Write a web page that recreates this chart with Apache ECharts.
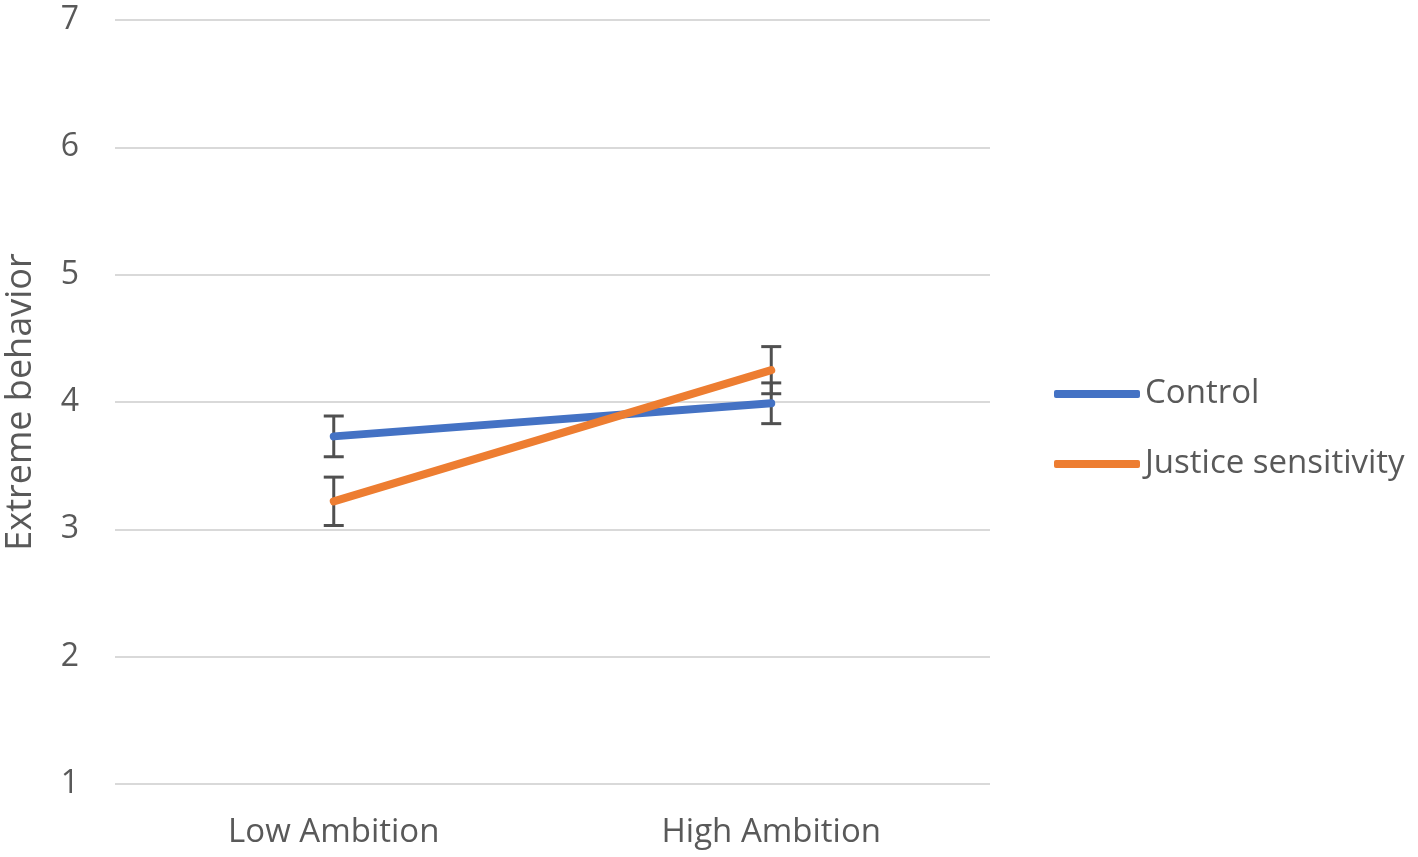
<!DOCTYPE html>
<html><head><meta charset="utf-8">
<script src="https://cdn.jsdelivr.net/npm/echarts@6/dist/echarts.min.js"></script>
<style>html,body{margin:0;padding:0;background:#fff}#c{width:1418px;height:857px}</style>
</head><body><div id="c"></div>
<script>
const categories = ['Low Ambition', 'High Ambition'];
const controlValues = [3.73, 3.99];
const controlErrors = [0.16, 0.16];
const justiceValues = [3.22, 4.25];
const justiceErrors = [0.19, 0.185];
const yTicks = [1, 2, 3, 4, 5, 6, 7];

const FONT = 'Open Sans';
const TXT = '#595959';

function errData(vals, errs) {
  return vals.map((v, i) => [i, v - errs[i], v + errs[i]]);
}
function renderErr(params, api) {
  const x = api.value(0);
  const lo = api.coord([x, api.value(1)]);
  const hi = api.coord([x, api.value(2)]);
  const hw = 10;
  const st = { stroke: '#505050', lineWidth: 3 };
  return {
    type: 'group',
    children: [
      { type: 'line', shape: { x1: lo[0], y1: lo[1], x2: hi[0], y2: hi[1] }, style: st },
      { type: 'line', shape: { x1: lo[0] - hw, y1: lo[1], x2: lo[0] + hw, y2: lo[1] }, style: st },
      { type: 'line', shape: { x1: hi[0] - hw, y1: hi[1], x2: hi[0] + hw, y2: hi[1] }, style: st }
    ]
  };
}

const chart = echarts.init(document.getElementById('c'));
chart.setOption({
  animation: false,
  textStyle: { fontFamily: FONT },
  grid: { left: 115, right: 428, top: 20, bottom: 73, containLabel: false, outerBoundsMode: 'none' },
  legend: {
    orient: 'vertical', left: 1054, top: 374, padding: 0,
    icon: 'roundRect', itemWidth: 86, itemHeight: 8, itemGap: 30,
    textStyle: { color: TXT, fontSize: 33, fontFamily: FONT, lineHeight: 40, padding: [0, 0, 0, 0] },
    data: ['Control', 'Justice sensitivity']
  },
  xAxis: {
    type: 'category', data: categories, boundaryGap: true,
    axisLine: { show: false }, axisTick: { show: false },
    axisLabel: { color: TXT, fontSize: 33, margin: 32 }
  },
  yAxis: {
    type: 'value', min: 1, max: 7, interval: 1,
    name: 'Extreme behavior', nameLocation: 'middle', nameGap: 76,
    nameTextStyle: { color: TXT, fontSize: 36 },
    axisLine: { show: false }, axisTick: { show: false },
    axisLabel: { color: TXT, fontSize: 32, margin: 36,
      formatter: v => yTicks.includes(v) ? String(v) : '' },
    splitLine: { lineStyle: { color: '#d9d9d9', width: 2 } }
  },
  series: [
    { name: 'ctrlErr', type: 'custom', renderItem: renderErr, data: errData(controlValues, controlErrors), z: 1, silent: true },
    { name: 'jsErr', type: 'custom', renderItem: renderErr, data: errData(justiceValues, justiceErrors), z: 1, silent: true },
    { name: 'Control', type: 'line', data: controlValues, symbol: 'none', z: 3,
      itemStyle: { color: '#4472C4' }, lineStyle: { color: '#4472C4', width: 8, cap: 'round' } },
    { name: 'Justice sensitivity', type: 'line', data: justiceValues, symbol: 'none', z: 4,
      itemStyle: { color: '#ED7D31' }, lineStyle: { color: '#ED7D31', width: 8, cap: 'round' } }
  ]
});
</script></body></html>
